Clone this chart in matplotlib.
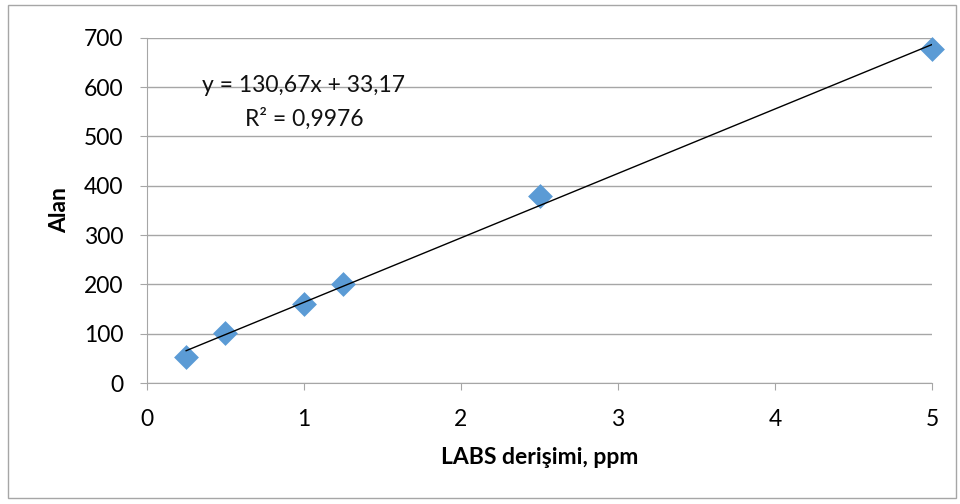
import numpy as np
import matplotlib.pyplot as plt
from matplotlib.patches import Rectangle

plt.rcParams['font.family'] = ['Lato', 'DejaVu Sans']

# Veriler
derisim = [0.25, 0.5, 1, 1.25, 2.5, 5]
alan = [53, 101, 160, 200, 379, 677]
denklem = 'y = 130,67x + 33,17'
r_kare = 'R² = 0,9976'

fig = plt.figure(figsize=(9.6, 5.04), dpi=100)
fig.patches.append(Rectangle((0.008, 0.012), 0.988, 0.978, transform=fig.transFigure,
                             fill=False, edgecolor='#a6a6a6', linewidth=1))
ax = fig.add_axes([0.153, 0.240, 0.818, 0.685])

# Trend çizgisi
m, b = np.polyfit(derisim, alan, 1)
xs = np.array([min(derisim), max(derisim)])
ax.plot(xs, m * xs + b, color='black', linewidth=1, zorder=3)

ax.scatter(derisim, alan, marker='D', s=160, color='#5b9bd5', linewidths=0,
           zorder=2, clip_on=False)

ax.text(1.0, 603, denklem, ha='center', va='center', fontsize=16.5, color='#111111')
ax.text(1.0, 536, r_kare, ha='center', va='center', fontsize=16.5, color='#111111')

ax.set_xlim(0, 5)
ax.set_ylim(0, 700)
ax.set_xticks(range(0, 6))
ax.set_yticks(range(0, 701, 100))
ax.yaxis.grid(True, color='#a6a6a6', linewidth=1)
ax.set_axisbelow(True)
for s in ['top', 'right']:
    ax.spines[s].set_visible(False)
for s in ['left', 'bottom']:
    ax.spines[s].set_color('#a6a6a6')
ax.tick_params(colors='#a6a6a6', labelcolor='black', labelsize=16.5, length=5)
ax.tick_params(axis='x', pad=14)
ax.tick_params(axis='y', pad=12)

ax.set_xlabel('LABS derişimi, ppm', fontsize=16.5, fontweight='bold', labelpad=12)
ax.set_ylabel('Alan', fontsize=16.5, fontweight='bold', labelpad=10)

fig.savefig('out.png', dpi=100)
